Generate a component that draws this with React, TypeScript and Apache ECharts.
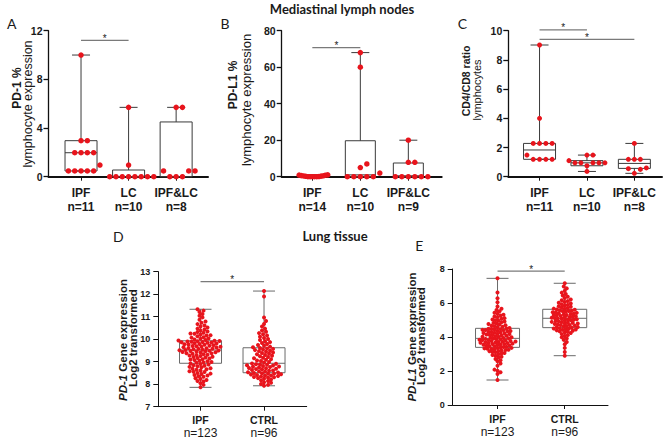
import React, { useEffect, useRef } from "react";
import * as echarts from "echarts";

// ---------- DATA ----------
const catsTop = ["IPF", "LC", "IPF&LC"];
const nA = ["n=11", "n=10", "n=8"];
const nB = ["n=14", "n=10", "n=9"];
const nC = ["n=11", "n=10", "n=8"];
const catsBottom = ["IPF", "CTRL"];
const nD = ["n=123", "n=96"];
const nE = ["n=123", "n=96"];

// box stats: [min, q1, median, q3, max]
const boxA = [[0.47, 0.47, 1.97, 2.96, 10], [0, 0, 0, 0.55, 5.7], [0, 0, 0, 4.5, 5.7]];
const ptsA_IPF = [10, 2.96, 2.96, 1.97, 1.97, 1.97, 1.97, 0.96, 0.47, 0.47, 0.47, 0.47, 0.47];
const ptsA_LC = [5.7, 0.96, 0, 0, 0, 0, 0, 0, 0, 0];
const ptsA_IPFLC = [5.7, 5.7, 0.47, 0.47, 0.47, 0, 0, 0];
const sigA = [[0, 1, 11.2]];

const boxB = [[0, 0, 0.3, 0.8, 1], [0, 0, 1, 19.7, 68], [0, 0, 0.5, 7.5, 20]];
const ptsB_IPF = [0, 0.2, 0, 0.5, 1.0, 0.3, 0, 0.8, 0.6, 0, 0.4, 0.9, 0.1, 0];
const ptsB_LC = [68, 60, 7, 5, 2, 0, 0, 0, 0, 0];
const ptsB_IPFLC = [20, 7.9, 7.9, 0, 0, 0, 0, 0, 0];
const sigB = [[0, 1, 70.7]];

const boxC = [[1.19, 1.19, 1.83, 2.28, 9.02], [0.36, 0.75, 0.95, 1.1, 1.48], [0.23, 0.57, 0.91, 1.19, 2.28]];
const ptsC_IPF = [9.02, 4.0, 2.28, 2.28, 2.28, 2.28, 1.48, 1.19, 1.19, 1.19, 1.19];
const ptsC_LC = [1.48, 1.48, 1.1, 0.95, 0.95, 0.95, 0.95, 0.95, 0.75, 0.36];
const ptsC_IPFLC = [2.28, 1.19, 1.19, 1.19, 0.6, 0.55, 0.5, 0.23];
const sigC = [[0, 1, 10.05], [0, 2, 9.4]];

const boxD = [[7.86, 8.93, 9.52, 9.93, 11.33], [7.93, 8.51, 8.93, 9.62, 12.14]];
const ptsD_IPF = [
  7.86, 7.97, 8.04, 8.12, 8.14, 8.19, 8.23, 8.26, 8.33, 8.35, 8.39, 8.41, 8.45, 8.47, 8.5, 8.54, 8.55, 8.58, 8.61, 8.64,
  8.66, 8.69, 8.71, 8.75, 8.77, 8.8, 8.82, 8.84, 8.88, 8.9, 8.92,
  8.95, 8.97, 8.99, 9.02, 9.04, 9.07, 9.1, 9.11, 9.14, 9.16, 9.19, 9.21, 9.22, 9.25, 9.27, 9.3, 9.31, 9.33, 9.35, 9.37,
  9.38, 9.41, 9.42, 9.43, 9.45, 9.46, 9.48, 9.49, 9.5, 9.51,
  9.52,
  9.53, 9.55, 9.57, 9.58, 9.6, 9.61, 9.63, 9.64, 9.66, 9.67, 9.69, 9.7, 9.71, 9.73, 9.75, 9.76, 9.78, 9.79, 9.81, 9.82,
  9.84, 9.85, 9.86, 9.88, 9.89, 9.9, 9.91, 9.92, 9.93, 9.94,
  9.96, 9.99, 10.02, 10.03, 10.07, 10.09, 10.13, 10.16, 10.18, 10.21, 10.24, 10.25, 10.29, 10.32, 10.34, 10.39, 10.43,
  10.47, 10.52, 10.56, 10.61, 10.67, 10.73, 10.79, 10.86, 10.97, 11.04, 11.12, 11.21, 11.27, 11.33,
];
const ptsD_CTRL = [
  7.93, 7.97, 8.01, 8.06, 8.09, 8.14, 8.17, 8.21, 8.24, 8.27, 8.29, 8.31, 8.32, 8.34, 8.36, 8.38, 8.39, 8.41, 8.43, 8.44,
  8.46, 8.47, 8.49, 8.5,
  8.52, 8.53, 8.56, 8.57, 8.6, 8.61, 8.63, 8.66, 8.67, 8.69, 8.71, 8.72, 8.74, 8.76, 8.78, 8.79, 8.81, 8.83, 8.84, 8.86,
  8.88, 8.89, 8.91, 8.92,
  8.96, 8.99, 9.03, 9.05, 9.09, 9.11, 9.15, 9.17, 9.21, 9.24, 9.26, 9.3, 9.33, 9.35, 9.39, 9.41, 9.44, 9.47, 9.49, 9.52,
  9.54, 9.57, 9.59, 9.61,
  9.64, 9.67, 9.71, 9.74, 9.79, 9.83, 9.87, 9.91, 9.96, 10.01, 10.05, 10.11, 10.16, 10.22, 10.27, 10.33, 10.39, 10.47,
  10.56, 10.68, 10.81, 10.96, 11.9, 12.14,
];
const sigD = [[0, 1, 12.56]];

const boxE = [[1.47, 3.39, 3.92, 4.51, 7.45], [2.9, 4.55, 5.1, 5.63, 7.16]];
const ptsE_IPF = [
  1.47, 1.82, 1.93, 2.01, 2.08, 2.31, 2.44, 2.57, 2.63, 2.71, 2.79, 2.84, 2.9, 2.94, 2.99, 3.03, 3.06, 3.1, 3.12, 3.16,
  3.18, 3.21, 3.23, 3.25, 3.27, 3.3, 3.31, 3.33, 3.35, 3.36, 3.38,
  3.41, 3.42, 3.45, 3.46, 3.48, 3.5, 3.53, 3.54, 3.56, 3.58, 3.59, 3.61, 3.63, 3.64, 3.66, 3.68, 3.69, 3.71, 3.72, 3.74,
  3.76, 3.77, 3.79, 3.81, 3.82, 3.84, 3.86, 3.87, 3.89, 3.91,
  3.92,
  3.94, 3.96, 3.99, 4.01, 4.02, 4.05, 4.07, 4.09, 4.11, 4.13, 4.15, 4.17, 4.19, 4.21, 4.23, 4.25, 4.27, 4.29, 4.31, 4.33,
  4.35, 4.37, 4.39, 4.41, 4.42, 4.44, 4.46, 4.47, 4.49, 4.5,
  4.53, 4.57, 4.6, 4.63, 4.66, 4.69, 4.73, 4.76, 4.79, 4.83, 4.87, 4.91, 4.95, 4.99, 5.03, 5.07, 5.11, 5.16, 5.21, 5.26,
  5.31, 5.37, 5.43, 5.51, 5.59, 5.66, 5.79, 6.04, 6.28, 6.62, 7.45,
];
const ptsE_CTRL = [
  2.9, 3.12, 3.36, 3.57, 3.71, 3.83, 3.91, 3.99, 4.06, 4.11, 4.17, 4.23, 4.26, 4.31, 4.33, 4.37, 4.39, 4.42, 4.44, 4.46,
  4.48, 4.5, 4.52, 4.54,
  4.57, 4.59, 4.62, 4.65, 4.67, 4.7, 4.71, 4.74, 4.77, 4.79, 4.8, 4.83, 4.85, 4.88, 4.89, 4.92, 4.94, 4.97, 4.98, 5.01,
  5.03, 5.05, 5.07, 5.09,
  5.11, 5.13, 5.16, 5.18, 5.19, 5.22, 5.24, 5.26, 5.29, 5.3, 5.33, 5.35, 5.37, 5.4, 5.42, 5.44, 5.46, 5.48, 5.51, 5.53,
  5.55, 5.57, 5.6, 5.62,
  5.65, 5.67, 5.71, 5.74, 5.78, 5.81, 5.84, 5.89, 5.93, 5.97, 6.01, 6.06, 6.11, 6.16, 6.21, 6.29, 6.37, 6.44, 6.53, 6.61,
  6.72, 6.86, 6.97, 7.16,
];
const sigE = [[0, 1, 7.88]];

// ---------- LAYOUT / STYLE ----------
const RED = "#e8141c";
const SANS = "'Liberation Sans', Arial, sans-serif";
const CAL = "Lato, 'Open Sans', sans-serif";

const richTop = {
  c: { fontFamily: SANS, fontWeight: "bold", fontSize: 12, lineHeight: 14, color: "#1a1a1a" },
  n: { fontFamily: SANS, fontWeight: "bold", fontSize: 12, lineHeight: 14, color: "#1a1a1a" },
};
const richBottom = {
  c: { fontFamily: SANS, fontWeight: "bold", fontSize: 10.5, lineHeight: 13, color: "#1a1a1a" },
  n: { fontFamily: SANS, fontWeight: "normal", fontSize: 12, lineHeight: 13, color: "#1a1a1a" },
};

const topStyle = {
  xAxisW: 2, yAxisW: 1.3, tickFont: 10.5, labelMargin: 9, yLabelMargin: 6,
  boxColor: "#3a3a3a", lineW: 1, rich: richTop, capW: 18,
};
const botStyle = {
  xAxisW: 1, yAxisW: 1, tickFont: 9, labelMargin: 7, yLabelMargin: 8,
  boxColor: "#6a6a6a", lineW: 1, rich: richBottom, capW: 22,
};

const PANELS = [
  {
    cats: catsTop, ns: nA, box: boxA, groups: [ptsA_IPF, ptsA_LC, ptsA_IPFLC], sig: sigA,
    L: { ...topStyle, left: 48.5, top: 30.7, width: 159.5, height: 146, xMin: -0.684, xMax: 2.67, yMin: 0, yMax: 12, yInt: 4, boxW: 32, dot: 5.5, dist: [6, 6, 6], step: [6.3, 6.3, 6.3] },
  },
  {
    cats: catsTop, ns: nB, box: boxB, groups: [ptsB_IPF, ptsB_LC, ptsB_IPFLC], sig: sigB,
    L: { ...topStyle, left: 281.7, top: 30.7, width: 160, height: 146, xMin: -0.638, xMax: 2.695, yMin: 0, yMax: 80, yInt: 20, boxW: 30, dot: 5.5, dist: [2.2, 6, 6], step: [2.2, 6.5, 6.5] },
  },
  {
    cats: catsTop, ns: nC, box: boxC, groups: [ptsC_IPF, ptsC_LC, ptsC_IPFLC], sig: sigC,
    L: { ...topStyle, left: 508.3, top: 30.7, width: 153.7, height: 146, xMin: -0.659, xMax: 2.583, yMin: 0, yMax: 10, yInt: 2, boxW: 32, dot: 5, dist: [6, 5.5, 5.5], step: [6.3, 6, 6] },
  },
  {
    cats: catsBottom, ns: nD, box: boxD, groups: [ptsD_IPF, ptsD_CTRL], sig: sigD,
    L: { ...botStyle, left: 158.3, top: 271.7, width: 148.4, height: 135, xMin: -0.665, xMax: 1.672, yMin: 7, yMax: 13, yInt: 1, boxW: 42, dot: 4, dist: [3.3, 3.3], step: [1, 1] },
  },
  {
    cats: catsBottom, ns: nE, box: boxE, groups: [ptsE_IPF, ptsE_CTRL], sig: sigE,
    L: { ...botStyle, left: 452.7, top: 269, width: 155.3, height: 136, xMin: -0.667, xMax: 1.644, yMin: 0, yMax: 8, yInt: 2, boxW: 44, dot: 4, dist: [3.0, 3.0], step: [1, 1] },
  },
];

const TEXTS = [
  { text: "Mediastinal lymph nodes", x: 342, y: 8.5, size: 13, weight: "bold", font: CAL, rot: 0 },
  { text: "Lung tissue", x: 335, y: 236, size: 13, weight: "bold", font: CAL, rot: 0 },
  { text: "A", x: 11.7, y: 23.3, size: 14, weight: "normal", font: CAL, rot: 0 },
  { text: "B", x: 225, y: 23.3, size: 14, weight: "normal", font: CAL, rot: 0 },
  { text: "C", x: 462.3, y: 23.3, size: 14, weight: "normal", font: CAL, rot: 0 },
  { text: "D", x: 118.3, y: 236.7, size: 14, weight: "normal", font: CAL, rot: 0 },
  { text: "E", x: 419.3, y: 245, size: 14, weight: "normal", font: CAL, rot: 0 },
  { text: "PD-1 %", x: 16.5, y: 88, size: 12, weight: "bold", font: SANS, rot: 1 },
  { text: "lymphocyte expression", x: 27.5, y: 104, size: 12.5, weight: "normal", font: SANS, rot: 1 },
  { text: "PD-L1 %", x: 233, y: 85, size: 12, weight: "bold", font: SANS, rot: 1 },
  { text: "lymphocyte expression", x: 246, y: 100, size: 13, weight: "normal", font: SANS, rot: 1 },
  { text: "CD4/CD8 ratio", x: 466, y: 81, size: 10.5, weight: "bold", font: SANS, rot: 1 },
  { text: "lymphocytes", x: 477, y: 90, size: 11, weight: "normal", font: SANS, rot: 1 },
  { text: "{i|PD-1} Gene expression", x: 123, y: 340, size: 11.5, weight: "bold", font: SANS, rot: 1 },
  { text: "Log2 transformed", x: 133, y: 338, size: 11.5, weight: "bold", font: SANS, rot: 1 },
  { text: "{i|PD-L1} Gene expression", x: 412, y: 337, size: 11.5, weight: "bold", font: SANS, rot: 1 },
  { text: "Log2 transformed", x: 421, y: 336, size: 11.5, weight: "bold", font: SANS, rot: 1 },
];

// beeswarm layout: positions points of a group so that dots do not overlap
function swarm(values: number[], cat: number, pxPerX: number, pxPerY: number, dist: number, step: number) {
  const order = values.map((_, i) => i).sort((a, b) => values[a] - values[b]);
  const placed: number[][] = [];
  const out: number[][] = [];
  for (const i of order) {
    const y = values[i] * pxPerY;
    for (let k = 0; k < 500; k++) {
      const off = k === 0 ? 0 : (k % 2 === 1 ? 1 : -1) * Math.ceil(k / 2) * step;
      const ok = placed.every((p) => (p[0] - off) ** 2 + (p[1] - y) ** 2 >= dist * dist - 1e-6);
      if (ok) {
        placed.push([off, y]);
        out.push([cat + off / pxPerX, values[i]]);
        break;
      }
    }
  }
  return out;
}

function buildOption() {
  const grid: any[] = [];
  const xAxis: any[] = [];
  const yAxis: any[] = [];
  const series: any[] = [];

  PANELS.forEach((p, i) => {
    const L: any = p.L;
    const idx = p.cats.map((_, j) => j);
    grid.push({ left: L.left, top: L.top, width: L.width, height: L.height, containLabel: false });
    xAxis.push({
      gridIndex: i, type: "value", min: L.xMin, max: L.xMax,
      axisLine: { show: true, onZero: false, lineStyle: { color: "#111", width: L.xAxisW } },
      axisTick: { show: true, customValues: idx, length: 4, lineStyle: { color: "#111", width: 1 } },
      axisLabel: {
        show: true, customValues: idx, margin: L.labelMargin, rich: L.rich,
        formatter: (v: number) => {
          const j = Math.round(v);
          return `{c|${p.cats[j]}}\n{n|${p.ns[j]}}`;
        },
      },
      splitLine: { show: false },
    });
    yAxis.push({
      gridIndex: i, type: "value", min: L.yMin, max: L.yMax, interval: L.yInt,
      axisLine: { show: true, onZero: false, lineStyle: { color: "#111", width: L.yAxisW } },
      axisTick: { show: true, length: 5, lineStyle: { color: "#111", width: L.yAxisW } },
      axisLabel: { fontFamily: SANS, fontWeight: "bold", fontSize: L.tickFont, color: "#1a1a1a", margin: L.yLabelMargin },
      splitLine: { show: false },
    });

    // boxes
    series.push({
      type: "custom", xAxisIndex: i, yAxisIndex: i, z: 2, silent: true, clip: false,
      data: p.box.map((b, j) => [j, ...b]),
      encode: { x: 0, y: [1, 2, 3, 4, 5] },
      renderItem: (_params: any, api: any) => {
        const x = api.value(0);
        const c = (v: number) => api.coord([x, v]);
        const mn = c(api.value(1)), q1 = c(api.value(2)), md = c(api.value(3)), q3 = c(api.value(4)), mx = c(api.value(5));
        const cx = mn[0], hw = L.boxW / 2, hc = L.capW / 2;
        const st = { stroke: L.boxColor, lineWidth: L.lineW, fill: "none" };
        return {
          type: "group",
          children: [
            { type: "line", shape: { x1: cx, y1: q3[1], x2: cx, y2: mx[1] }, style: st },
            { type: "line", shape: { x1: cx, y1: q1[1], x2: cx, y2: mn[1] }, style: st },
            { type: "line", shape: { x1: cx - hc, y1: mx[1], x2: cx + hc, y2: mx[1] }, style: st },
            { type: "line", shape: { x1: cx - hc, y1: mn[1], x2: cx + hc, y2: mn[1] }, style: st },
            { type: "rect", shape: { x: cx - hw, y: q3[1], width: L.boxW, height: q1[1] - q3[1] }, style: st },
            { type: "line", shape: { x1: cx - hw, y1: md[1], x2: cx + hw, y2: md[1] }, style: st },
          ],
        };
      },
    });

    // points
    const pxPerX = L.width / (L.xMax - L.xMin);
    const pxPerY = L.height / (L.yMax - L.yMin);
    p.groups.forEach((vals, j) => {
      series.push({
        type: "scatter", xAxisIndex: i, yAxisIndex: i, z: 3, silent: true,
        symbol: "circle", symbolSize: L.dot,
        itemStyle: { color: RED, opacity: 1 },
        data: swarm(vals, j, pxPerX, pxPerY, L.dist[j], L.step[j]),
      });
    });

    // significance bars
    series.push({
      type: "custom", xAxisIndex: i, yAxisIndex: i, z: 4, silent: true, clip: false,
      data: p.sig.map((s) => [s[0], s[1], s[2]]),
      encode: { x: [0, 1], y: 2 },
      renderItem: (_params: any, api: any) => {
        const a = api.coord([api.value(0), api.value(2)]);
        const b = api.coord([api.value(1), api.value(2)]);
        return {
          type: "group",
          children: [
            { type: "line", shape: { x1: a[0], y1: a[1], x2: b[0], y2: b[1] }, style: { stroke: "#7a7a7a", lineWidth: 1.2 } },
            {
              type: "text", x: (a[0] + b[0]) / 2, y: a[1] - 2,
              style: { text: "*", fontSize: 10, fontFamily: SANS, fill: "#222", align: "center", verticalAlign: "middle" },
            },
          ],
        };
      },
    });
  });

  const graphic = TEXTS.map((t) => ({
    type: "text", x: t.x, y: t.y, rotation: t.rot ? Math.PI / 2 : 0, silent: true,
    style: {
      text: t.text, fontSize: t.size, fontWeight: t.weight, fontFamily: t.font, fill: "#1a1a1a",
      align: "center", verticalAlign: "middle",
      rich: { i: { fontStyle: "italic", fontWeight: "bold", fontSize: t.size, fontFamily: t.font, fill: "#1a1a1a" } },
    },
  }));

  return { animation: false, backgroundColor: "#ffffff", grid, xAxis, yAxis, series, graphic };
}

export default function App() {
  const ref = useRef<HTMLDivElement>(null);
  useEffect(() => {
    document.body.style.margin = "0";
    const chart = echarts.init(ref.current!, null, { renderer: "svg" });
    chart.setOption(buildOption() as any);
    return () => chart.dispose();
  }, []);
  return <div ref={ref} style={{ width: 669, height: 441, background: "#fff" }} />;
}
